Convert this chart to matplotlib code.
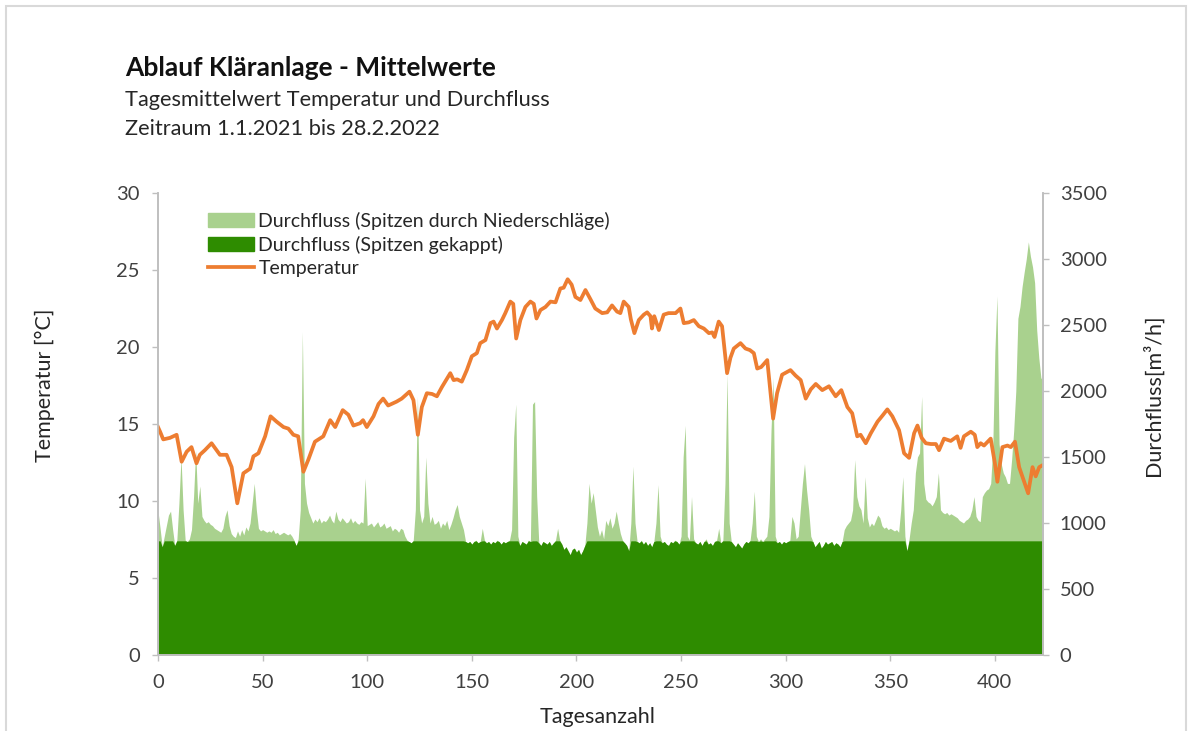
import matplotlib
matplotlib.use("Agg")
import matplotlib.pyplot as plt
from matplotlib.patches import Patch, Rectangle
from matplotlib.lines import Line2D
import numpy as np

plt.rcParams['font.family'] = ['Lato', 'DejaVu Sans']

# Tagesmittelwert Durchfluss [m3/h], Tag 0 .. 423
flow = [
    1090, 960, 820, 900, 980, 1060, 1090, 950, 830, 870, 1150, 1500, 1100, 870, 860, 880, 950, 1200, 1550, 1150,   # 0
    1280, 1050, 1020, 1000, 1010, 990, 980, 960, 950, 940, 930, 960, 1050, 1100, 980, 920, 900, 890, 940, 900,     # 20
    950, 910, 970, 940, 1000, 1150, 1300, 1100, 960, 940, 950, 940, 930, 940, 930, 950, 920, 930, 910, 920,        # 40
    930, 920, 910, 920, 900, 870, 830, 880, 1100, 2450, 1300, 1150, 1080, 1040, 1000, 1030, 1010, 1040, 1000, 1020,  # 60
    1010, 1030, 1060, 1020, 1000, 1090, 1030, 1010, 1040, 1020, 1000, 1010, 1040, 1000, 1020, 1000, 990, 1010, 1000, 1340,  # 80
    980, 990, 1000, 970, 990, 1010, 970, 980, 1000, 960, 970, 980, 940, 960, 950, 930, 960, 950, 900, 870,         # 100
    860, 850, 870, 1100, 1960, 1100, 1000, 1050, 1500, 1150, 1000, 1050, 990, 1000, 1020, 960, 1000, 980, 1020, 950,  # 120
    990, 1040, 1100, 1140, 1050, 1000, 950, 860, 850, 860, 840, 860, 870, 850, 860, 960, 870, 850, 860, 840,       # 140
    860, 850, 870, 860, 840, 860, 850, 860, 870, 950, 1650, 1900, 900, 830, 860, 850, 840, 870, 860, 1900,         # 160
    1920, 1200, 850, 830, 860, 850, 840, 860, 830, 850, 870, 960, 870, 840, 800, 820, 790, 760, 800, 810,          # 180
    780, 800, 760, 790, 830, 1000, 1300, 1150, 1230, 1100, 970, 900, 950, 880, 1020, 980, 1040, 960, 1000, 1090,   # 200
    1000, 920, 870, 850, 830, 790, 1000, 1430, 1000, 860, 850, 870, 840, 860, 830, 850, 820, 860, 1000, 1290,      # 220
    900, 850, 860, 840, 830, 860, 850, 870, 860, 840, 900, 1500, 1740, 900, 870, 1200, 880, 850, 840, 860,         # 240
    830, 860, 880, 840, 850, 830, 860, 870, 960, 850, 870, 1300, 2130, 1000, 860, 840, 820, 850, 830, 810,         # 260
    840, 860, 850, 870, 1000, 1240, 900, 860, 880, 860, 880, 900, 1050, 1700, 2100, 900, 850, 860, 840, 860,       # 280
    850, 860, 870, 1050, 1000, 880, 900, 1100, 1300, 1450, 1250, 1100, 900, 860, 820, 840, 860, 810, 830, 860,     # 300
    840, 850, 860, 830, 850, 840, 820, 860, 950, 980, 1000, 1020, 1100, 1480, 1200, 1130, 1100, 1000, 1350, 1040,  # 320
    970, 1000, 980, 1020, 1060, 1040, 980, 960, 970, 950, 960, 950, 940, 950, 930, 1100, 1350, 900, 790, 880,      # 340
    1000, 1100, 1380, 1500, 1530, 1960, 1300, 1180, 1160, 1150, 1130, 1160, 1200, 1380, 1100, 1080, 1070, 1080, 1060, 1070,  # 360
    1060, 1050, 1040, 1020, 1010, 1000, 1020, 1030, 1050, 1100, 1200, 1050, 1020, 1010, 1200, 1230, 1250, 1260, 1300, 1580,  # 380
    2300, 2720, 1600, 1450, 1380, 1350, 1300, 1300, 1480, 1700, 2000, 2550, 2640, 2790, 2900, 3000, 3130, 3020, 2940, 2820,  # 400
    2460, 2250, 2100, 2080,                                                                                        # 420
]
flow_cap = 865  # Spitzen gekappt

temp_days = [
    0, 1, 2.5, 5.7, 8.9, 11.3, 13.7, 16, 18.4, 20, 22.4, 25.6, 29.6, 32.8, 35.2, 37.9, 40.8, 44, 45.6, 48,
    51.2, 53.8, 56.7, 60, 62.3, 64.7, 67, 69.5, 71.9, 75, 79, 82.3, 84.7, 88.3, 91, 93.4, 96.6, 98, 99.8, 103,
    105.4, 107.6, 110, 114, 116.5, 120.2, 122.1, 124.2, 126.1, 128.5, 131, 133.3, 135.7, 139.7, 141.3, 143, 145.2, 147.6, 150, 152.4,
    154, 156.5, 158.9, 160.4, 162, 164.4, 166, 168.4, 169.8, 171.2, 173.2, 175.6, 178, 179.6, 180.9, 182.8, 185.2, 187.6, 190, 192.3,
    193.9, 195.8, 197.7, 199.5, 201.9, 204.3, 206.7, 209, 212.3, 214.7, 217, 219.4, 221, 222.6, 225, 226, 227.7, 229.8, 232.2, 233.8,
    235.4, 236.1, 237.2, 239.4, 241.7, 244, 247.4, 249.7, 251.3, 253.7, 256.1, 258.5, 260.9, 263.3, 264.9, 266, 268, 269.6, 272, 273.6,
    275.2, 278.4, 280.8, 282.9, 284.8, 286.4, 288.3, 291.2, 294, 295.9, 298.3, 302.3, 304.7, 307.2, 309.6, 312, 314.4, 317.5, 320.7, 323.9,
    326.6, 329.5, 331.8, 334.2, 335.8, 338.3, 340.7, 343.9, 346.3, 348.6, 351, 354.2, 356.6, 359, 361.4, 363, 365, 367, 369.4, 371.8,
    373.3, 375.7, 378.9, 382, 383.6, 385.2, 388.5, 390.4, 391.6, 393.2, 394.8, 398, 400, 401.2, 403.6, 406, 407.6, 409.6, 411.6, 414,
    415.9, 418, 419.5, 421.2, 422.5,
]
temp_vals = [
    14.8, 14.5, 14.0, 14.1, 14.3, 12.55, 13.2, 13.5, 12.45, 13.0, 13.3, 13.75, 13.0, 13.0, 12.2, 9.85, 11.8, 12.1, 12.9, 13.1,
    14.2, 15.5, 15.15, 14.8, 14.7, 14.3, 14.2, 11.9, 12.7, 13.85, 14.2, 15.25, 14.8, 15.9, 15.6, 14.9, 15.05, 15.25, 14.8, 15.5,
    16.3, 16.65, 16.2, 16.45, 16.65, 17.1, 16.55, 14.3, 16.1, 17.0, 16.95, 16.8, 17.4, 18.3, 17.85, 17.9, 17.75, 18.5, 19.4, 19.6,
    20.25, 20.45, 21.55, 21.65, 21.2, 21.75, 22.2, 22.95, 22.8, 20.55, 21.75, 22.6, 22.95, 22.8, 21.85, 22.4, 22.6, 22.95, 22.9, 23.8,
    23.85, 24.4, 24.05, 23.25, 23.05, 23.7, 23.1, 22.5, 22.2, 22.25, 22.7, 22.3, 22.2, 22.95, 22.6, 21.8, 20.9, 21.75, 22.1, 22.25,
    22.0, 21.2, 22.0, 21.1, 22.1, 22.2, 22.2, 22.5, 21.55, 21.6, 21.75, 21.35, 21.2, 20.9, 20.95, 20.65, 21.65, 21.35, 18.3, 19.3,
    19.9, 20.25, 19.9, 19.8, 19.6, 18.6, 18.7, 19.15, 15.35, 17.0, 18.2, 18.5, 18.15, 17.85, 16.65, 17.25, 17.6, 17.2, 17.45, 16.8,
    17.2, 16.1, 15.7, 14.2, 14.3, 13.75, 14.4, 15.15, 15.55, 15.95, 15.5, 14.6, 13.1, 12.8, 14.4, 14.9, 14.1, 13.75, 13.7, 13.7,
    13.3, 14.05, 13.9, 14.2, 13.45, 14.2, 14.5, 14.3, 13.5, 13.75, 13.6, 14.05, 12.45, 11.25, 13.5, 13.6, 13.5, 13.85, 12.2, 11.25,
    10.5, 12.2, 11.6, 12.2, 12.3,
]

days = np.arange(len(flow))
flow = np.array(flow)
flow_capped = np.minimum(flow, flow_cap)

light_green = '#A9D18E'
dark_green = '#2E8C00'
orange = '#ED7D31'
grey = '#BFBFBF'
txt = '#404040'

fig = plt.figure(figsize=(11.92, 7.31), dpi=100)
ax = fig.add_axes([158 / 1192, 1 - 655 / 731, (1043 - 158) / 1192, (655 - 193) / 731])
ax2 = ax.twinx()

ax2.fill_between(days, 0, flow, color=light_green, linewidth=0)
ax2.fill_between(days, 0, flow_capped, color=dark_green, linewidth=0)
ax.plot(temp_days, temp_vals, color=orange, lw=2.7, solid_joinstyle='round')

# Temperaturlinie über den Flächen
ax.set_zorder(ax2.get_zorder() + 1)
ax.patch.set_visible(False)

ax.set_xlim(0, 423)
ax.set_ylim(0, 30)
ax2.set_ylim(0, 3500)
ax.set_xticks(range(0, 401, 50))
ax.set_yticks(range(0, 31, 5))
ax2.set_yticks(range(0, 3501, 500))

for a in (ax, ax2):
    a.spines['top'].set_visible(False)
    for s in ('left', 'right', 'bottom'):
        a.spines[s].set_color(grey)
        a.spines[s].set_linewidth(1.2)
ax.tick_params(axis='y', length=4, width=1, color=grey, labelcolor=txt, labelsize=14.5, pad=9)
ax.tick_params(axis='x', length=4, width=1, color=grey, labelcolor=txt, labelsize=14.5, pad=10)
ax2.tick_params(axis='y', length=4, width=1, color=grey, labelcolor=txt, labelsize=14.5, pad=8)

fig.text(125 / 1192, 1 - 68 / 731, 'Ablauf Kläranlage - Mittelwerte', fontsize=19,
         fontweight='bold', color='#111111', va='center', ha='left')
fig.text(125 / 1192, 1 - 100 / 731, 'Tagesmittelwert Temperatur und Durchfluss', fontsize=15.7,
         color='#262626', va='center', ha='left')
fig.text(125 / 1192, 1 - 129 / 731, 'Zeitraum 1.1.2021 bis 28.2.2022', fontsize=15.7,
         color='#262626', va='center', ha='left')

fig.text(45 / 1192, 1 - 385 / 731, 'Temperatur [°C]', rotation=90, fontsize=15.5,
         color='#262626', va='center', ha='center')
fig.text(1153 / 1192, 1 - 395 / 731, 'Durchfluss[m³/h]', rotation=90, fontsize=15.5,
         color='#262626', va='center', ha='center')
fig.text(598 / 1192, 1 - 717 / 731, 'Tagesanzahl', fontsize=15.5,
         color='#262626', va='center', ha='center')

handles = [Patch(color=light_green, label='Durchfluss (Spitzen durch Niederschläge)'),
           Patch(color=dark_green, label='Durchfluss (Spitzen gekappt)'),
           Line2D([], [], color=orange, lw=2.7, label='Temperatur')]
ax.legend(handles=handles, loc='upper left', bbox_to_anchor=(198 / 1192, 1 - 202 / 731),
          bbox_transform=fig.transFigure, frameon=False, fontsize=14, borderpad=0,
          handlelength=2.4, handleheight=0.75, handletextpad=0.2, labelspacing=0.32,
          labelcolor='#262626')

fig.patches.append(Rectangle((6 / 1192, -0.01), 1180 / 1192, 1.0 - 6 / 731 + 0.01,
                             transform=fig.transFigure, fill=False, edgecolor='#D9D9D9', lw=1.5))

fig.savefig('out.png', dpi=100)
